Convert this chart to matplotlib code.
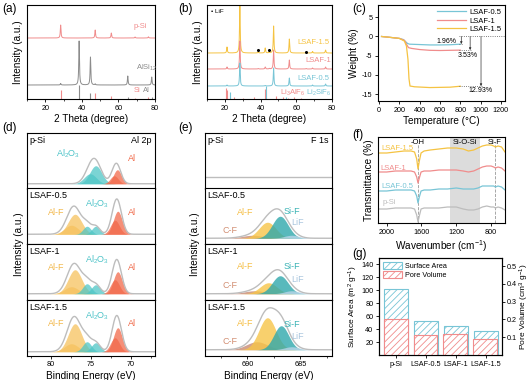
import numpy as np
import matplotlib
matplotlib.use('Agg')
import matplotlib.pyplot as plt
from matplotlib.patches import Patch
from matplotlib.ticker import MultipleLocator

plt.rcParams['font.family'] = ['Liberation Sans', 'DejaVu Sans']
plt.rcParams['axes.linewidth'] = 0.8
plt.rcParams['axes.unicode_minus'] = False
plt.rcParams['hatch.linewidth'] = 0.6
plt.rcParams['mathtext.default'] = 'regular'
plt.rcParams['xtick.major.width'] = 0.6
plt.rcParams['ytick.major.width'] = 0.6
plt.rcParams['xtick.major.size'] = 2.5
plt.rcParams['ytick.major.size'] = 2.5
plt.rcParams['xtick.minor.size'] = 1.5
plt.rcParams['xtick.minor.width'] = 0.5
plt.rcParams['xtick.major.pad'] = 1.5
plt.rcParams['ytick.major.pad'] = 1.5

C_RED = '#F08C8C'
C_GRAY = '#8C8C8C'
C_YEL = '#F5C342'
C_BLUE = '#78C5D6'
C_LGRAY = '#BDBDBD'

# ---------------- (a) XRD ----------------
a_psi_pos = [28.4, 47.3, 56.1, 69.1, 76.4]
a_psi_h = [13, 8, 5, 1, 1.2]
a_alsi_pos = [28.4, 38.5, 44.7, 47.3, 65.1, 78.2]
a_alsi_h = [1.5, 44, 28, 1, 9, 8]
a_ref_si_pos = [28.4, 47.3, 56.1, 69.1, 76.4]
a_ref_si_h = [9, 6, 3, 1, 2]
a_ref_al_pos = [38.5, 44.7, 65.1, 78.2]
a_ref_al_h = [14, 6, 2, 2]
a_base = {'p-Si': 61, 'AlSi12': 14}

# ---------------- (b) XRD ----------------
b_pos = [21.2, 28.4, 38.7, 42.6, 44.9, 47.3, 56.1, 65.5, 69.1, 76.4]
b_h15 = [6, 50, 1, 5, 1, 27, 14, 0.8, 1.5, 3]
b_h1 = [2, 28, 0.5, 2, 0.5, 19, 9, 0.5, 1, 2]
b_h05 = [1, 23, 0, 0.5, 0, 18, 8, 0, 1, 2]
b_base = [46, 30, 13]
b_ref_laf_pos = [20.9, 21.4, 25.0, 30.3, 36.5, 42.2, 48.5, 52.8, 55.2, 58.7, 62.5]
b_ref_laf_h = [11, 9, 2, 1.5, 2, 10, 3, 2, 1.5, 2, 1]
b_ref_lsf_pos = [22.6, 42.9, 54.2]
b_ref_lsf_h = [7, 13, 2]
b_lif_pos = [38.5, 44.8, 65.5]
b_lif_y = [49, 49, 47]

# ---------------- (c) TGA ----------------
c_T05 = [25, 100, 200, 240, 260, 280, 300, 400, 500, 600, 700, 800]
c_w05 = [0, -0.2, -0.5, -0.8, -1.3, -1.8, -2.0, -2.1, -2.2, -2.2, -2.15, -2.0]
c_T1 = [25, 100, 200, 250, 270, 290, 320, 400, 500, 600, 700, 800]
c_w1 = [0, -0.2, -0.5, -1.0, -2.0, -2.9, -3.1, -3.4, -3.6, -3.65, -3.6, -3.55]
c_T15 = [25, 100, 200, 250, 270, 285, 295, 305, 350, 500, 700, 800]
c_w15 = [0, -0.2, -0.5, -1.2, -2.5, -6.0, -11.0, -12.9, -13.1, -13.3, -13.2, -12.95]
c_loss = [1.96, 3.53, 12.93]
c_arrow_T = [810, 897, 1004]

# ---------------- (d) XPS Al 2p ----------------
d_names = ['p-Si', 'LSAF-0.5', 'LSAF-1', 'LSAF-1.5']
d_base = [5, 10, 6, 4]
# (component, center, height, sigma)
d_comps = [
    [('Al2O3', 75.1, 10, 0.75), ('Al2O3', 74.4, 18, 0.75), ('Al', 72.1, 8, 0.5), ('Al', 71.7, 14, 0.5)],
    [('AlF', 77.0, 20, 0.85), ('AlF', 77.45, 9, 0.85), ('Al2O3', 75.5, 8, 0.5), ('Al2O3', 74.4, 8, 0.5),
     ('Al', 72.0, 14, 0.55), ('Al', 71.65, 23, 0.55)],
    [('AlF', 77.0, 24, 0.85), ('AlF', 77.45, 7, 0.85), ('Al2O3', 75.5, 10, 0.55), ('Al2O3', 74.4, 9, 0.55),
     ('Al', 72.0, 14, 0.55), ('Al', 71.65, 22, 0.55)],
    [('AlF', 77.0, 28, 0.85), ('AlF', 77.45, 8, 0.85), ('Al2O3', 75.5, 10, 0.55), ('Al2O3', 74.4, 9, 0.55),
     ('Al', 72.0, 14, 0.55), ('Al', 71.65, 24, 0.55)],
]
d_colors = {'AlF': '#F6C25E', 'Al2O3': '#4FC6C6', 'Al': '#F26A4B'}
d_text_colors = {'AlF': '#F2B84B', 'Al2O3': '#4DC3C8', 'Al': '#F06A4A'}
d_text = {'AlF': 'Al-F', 'Al2O3': 'Al$_2$O$_3$', 'Al': 'Al'}
d_labels = [
    [('Al2O3', 77.9, 35), ('Al', 69.9, 30)],
    [('AlF', 79.3, 32), ('Al2O3', 74.3, 40), ('Al', 69.9, 32)],
    [('AlF', 79.3, 32), ('Al2O3', 74.3, 40), ('Al', 69.9, 32)],
    [('AlF', 79.3, 32), ('Al2O3', 74.3, 40), ('Al', 69.9, 32)],
]

# ---------------- (e) XPS F 1s ----------------
e_names = ['p-Si', 'LSAF-0.5', 'LSAF-1', 'LSAF-1.5']
e_base = [12, 6, 6, 6]
e_comps = [
    [],
    [('CF', 689.5, 3, 1.0), ('AlF', 688.1, 16, 0.8), ('SiF', 686.9, 22, 0.75), ('LiF', 685.8, 3, 0.7)],
    [('CF', 689.3, 3, 1.0), ('AlF', 688.0, 11, 0.8), ('SiF', 686.9, 18, 0.75), ('LiF', 685.8, 3, 0.7)],
    [('CF', 689.1, 8, 1.0), ('AlF', 688.1, 32, 0.8), ('SiF', 686.8, 24, 0.7), ('LiF', 685.8, 3, 0.7)],
]
e_colors = {'CF': '#C98B74', 'AlF': '#F7C548', 'SiF': '#2FA8AC', 'LiF': '#B9D5E8'}
e_text_colors = {'CF': '#D28F73', 'AlF': '#F5BE45', 'SiF': '#3AB3B5', 'LiF': '#A9C6DE'}
e_text = {'CF': 'C-F', 'AlF': 'Al-F', 'SiF': 'Si-F', 'LiF': 'LiF'}
e_labels = [
    [],
    [('AlF', 690.2, 32), ('SiF', 685.75, 33), ('CF', 691.6, 14), ('LiF', 685.3, 22)],
    [('AlF', 690.2, 33), ('SiF', 685.75, 33), ('CF', 691.6, 14), ('LiF', 685.3, 20)],
    [('AlF', 690.2, 32), ('SiF', 685.75, 31), ('CF', 691.6, 14), ('LiF', 685.3, 19)],
]

# ---------------- (f) FTIR ----------------
f_wn = [2100, 2000, 1900, 1800, 1720, 1680, 1655, 1640, 1625, 1605, 1570, 1500, 1400, 1300,
        1200, 1120, 1060, 1000, 950, 900, 850, 800, 770, 750, 720, 680, 640]
f_lsaf15 = [70, 70, 71, 72, 72, 71, 64, 54, 62, 70, 72, 73, 74, 75, 75, 74, 72, 73, 75, 77, 78, 78, 77, 76, 77, 76, 71]
f_lsaf1 = [51, 51, 52, 52, 52, 51, 46, 40, 45, 51, 52, 52, 53, 53, 53, 52, 51, 52, 54, 56, 57, 57, 56, 55, 56, 55, 52]
f_lsaf05 = [32, 32, 33, 33, 33, 32, 27, 20, 26, 32, 33, 33, 34, 34, 35, 34, 34, 34, 35, 37, 37, 37, 37, 36, 37, 36, 33]
f_psi = [14, 14, 15, 15, 15, 14, 8, 1, 7, 14, 15, 15, 15, 16, 16, 14, 13, 13, 14, 16, 17, 16, 16, 15, 16, 15, 13]
f_oh = 1640
f_sif = 760
f_band = (1270, 930)

# ---------------- (g) BET ----------------
g_cats = ['p-Si', 'LSAF-0.5', 'LSAF-1', 'LSAF-1.5']
g_area = [102, 52, 45, 37]
g_pore = [0.203, 0.112, 0.117, 0.09]

W, H = 532, 380
fig = plt.figure(figsize=(W / 100, H / 100), dpi=100)


def add_ax(l, t, r, b):
    return fig.add_axes([l / W, 1 - b / H, (r - l) / W, (b - t) / H])


def lor(x, c, h, w=0.22):
    return h / (1 + ((x - c) / w) ** 2)


def gau(x, c, h, s):
    return h * np.exp(-(x - c) ** 2 / (2 * s ** 2))


LW = 0.7
TFS = 5.2   # tick font size
LFS = 7.2   # axis label font size
PFS = 8.5   # panel label font size

# ---- (a)
ax = add_ax(27, 5, 155, 99)
x = np.linspace(10, 80, 4000)
y = a_base['p-Si'] + sum(lor(x, c, h) for c, h in zip(a_psi_pos, a_psi_h))
ax.plot(x, y, color=C_RED, lw=LW)
y = a_base['AlSi12'] + sum(lor(x, c, h) for c, h in zip(a_alsi_pos, a_alsi_h))
ax.plot(x, y, color=C_GRAY, lw=LW)
ax.vlines(a_ref_si_pos, 0, a_ref_si_h, color=C_RED, lw=0.8)
ax.vlines(a_ref_al_pos, 0, a_ref_al_h, color=C_GRAY, lw=0.8)
ax.set_xlim(10, 80)
ax.set_ylim(0, 94)
ax.set_yticks([])
ax.set_xticks([20, 40, 60, 80])
ax.xaxis.set_minor_locator(MultipleLocator(10))
ax.tick_params(labelsize=TFS)
ax.set_xlabel('2 Theta (degree)', fontsize=LFS, labelpad=2)
ax.set_ylabel('Intensity (a.u.)', fontsize=LFS, labelpad=3)
ax.text(72, 73, 'p-Si', color=C_RED, fontsize=5.5, ha='center', va='center')
ax.text(75.5, 31, 'AlSi$_{12}$', color=C_GRAY, fontsize=5.5, ha='center', va='center')
ax.text(70, 8, 'Si', color=C_RED, fontsize=5.5, ha='center', va='center')
ax.text(75.5, 8, 'Al', color=C_GRAY, fontsize=5.5, ha='center', va='center')

# ---- (b)
ax = add_ax(207, 5, 332, 99)
for base, hs, col in zip(b_base, [b_h15, b_h1, b_h05], [C_YEL, C_RED, C_BLUE]):
    y = base + sum(lor(x, c, h) for c, h in zip(b_pos, hs))
    ax.plot(x, y, color=col, lw=LW)
ax.vlines(b_ref_laf_pos, 0, b_ref_laf_h, color=C_RED, lw=0.8)
ax.vlines(b_ref_lsf_pos, 0, b_ref_lsf_h, color=C_BLUE, lw=0.8)
ax.plot(b_lif_pos, b_lif_y, 'o', color='k', ms=1.2)
ax.set_xlim(10, 80)
ax.set_ylim(0, 94)
ax.set_yticks([])
ax.set_xticks([20, 40, 60, 80])
ax.xaxis.set_minor_locator(MultipleLocator(10))
ax.tick_params(labelsize=TFS)
ax.set_xlabel('2 Theta (degree)', fontsize=LFS, labelpad=2)
ax.set_ylabel('Intensity (a.u.)', fontsize=LFS, labelpad=3)
ax.text(0.03, 0.93, '\u2022 LiF', transform=ax.transAxes, fontsize=4.5, va='center')
ax.text(69.5, 56, 'LSAF-1.5', color=C_YEL, fontsize=5.5, ha='center', va='center')
ax.text(72.5, 38, 'LSAF-1', color=C_RED, fontsize=5.5, ha='center', va='center')
ax.text(69.5, 20, 'LSAF-0.5', color=C_BLUE, fontsize=5.5, ha='center', va='center')
ax.text(58.0, 6, 'Li$_3$AlF$_6$', color=C_RED, fontsize=5.5, ha='center', va='center')
ax.text(72.5, 6, 'Li$_2$SiF$_6$', color=C_BLUE, fontsize=5.5, ha='center', va='center')

# ---- (c)
ax = add_ax(378, 5, 505, 101)
ax.plot(c_T05, c_w05, color=C_BLUE, lw=0.9, label='LSAF-0.5')
ax.plot(c_T1, c_w1, color=C_RED, lw=0.9, label='LSAF-1')
ax.plot(c_T15, c_w15, color=C_YEL, lw=0.9, label='LSAF-1.5')
ax.set_xlim(-10, 1240)
ax.set_ylim(-16.8, 8.2)
ax.set_xticks([0, 200, 400, 600, 800, 1000, 1200])
ax.set_yticks([5, 0, -5, -10, -15])
ax.tick_params(labelsize=TFS)
ax.set_xlabel('Temperature (\u00b0C)', fontsize=LFS, labelpad=2)
ax.set_ylabel('Weight (%)', fontsize=LFS, labelpad=2)
ax.hlines(0, 790, 1235, color='#555555', lw=0.6, ls=':')
for L, Tx in zip(c_loss, c_arrow_T):
    ax.hlines(-L, 790, Tx + 15, color='#555555', lw=0.6, ls=':')
    ax.annotate('', xy=(Tx, -L), xytext=(Tx, 0),
                arrowprops=dict(arrowstyle='-|>', lw=0.5, color='#333333', mutation_scale=3,
                                shrinkA=0, shrinkB=0))
ax.text(665, -1.4, '1.96%', fontsize=5, ha='center', va='center')
ax.text(870, -4.9, '3.53%', fontsize=5, ha='center', va='center')
ax.text(1000, -14.0, '12.93%', fontsize=5, ha='center', va='center')
ax.legend(loc='upper right', frameon=False, fontsize=5.5, handlelength=3.8,
          borderaxespad=0.1, labelspacing=0.15, handletextpad=0.4)

# ---- (d)
tops = [133, 188.5, 244, 300]
hgt = 55.75
xd = np.linspace(83, 67, 800)
for i in range(4):
    ax = add_ax(27, tops[i], 155, tops[i] + hgt)
    base = d_base[i]
    total = np.zeros_like(xd)
    for name, c, h, s in d_comps[i]:
        g = gau(xd, c, h, s)
        total += g
        ax.fill_between(xd, base, base + g, color=d_colors[name], alpha=0.75, lw=0)
    ax.plot(xd, base + total, color=C_LGRAY, lw=1.0)
    for name, ex, ey in d_labels[i]:
        ax.text(ex, ey, d_text[name], color=d_text_colors[name], fontsize=6.5, ha='center', va='center')
    ax.text(0.02, 0.95, d_names[i], transform=ax.transAxes, fontsize=6.5, va='top', ha='left')
    if i == 0:
        ax.text(0.97, 0.95, 'Al 2p', transform=ax.transAxes, fontsize=6.5, va='top', ha='right')
    ax.set_xlim(83, 67)
    ax.set_ylim(0, hgt)
    ax.set_yticks([])
    if i < 3:
        ax.set_xticks([])
    else:
        ax.set_xticks([80, 75, 70])
        ax.xaxis.set_minor_locator(MultipleLocator(2.5))
        ax.tick_params(labelsize=TFS)
        ax.set_xlabel('Binding Energy (eV)', fontsize=LFS, labelpad=2)
fig.text(19 / W, 1 - 244.5 / H, 'Intensity (a.u.)', rotation=90, fontsize=LFS, ha='center', va='center')

# ---- (e)
xe = np.linspace(694, 682, 800)
for i in range(4):
    ax = add_ax(205, tops[i], 332, tops[i] + hgt)
    base = e_base[i]
    total = np.zeros_like(xe)
    for name, c, h, s in e_comps[i]:
        g = gau(xe, c, h, s)
        total += g
        ax.fill_between(xe, base, base + g, color=e_colors[name], alpha=0.8, lw=0)
    ax.plot(xe, base + total, color=C_LGRAY, lw=1.0)
    for name, ex, ey in e_labels[i]:
        ax.text(ex, ey, e_text[name], color=e_text_colors[name], fontsize=6.5, ha='center', va='center')
    ax.text(0.02, 0.95, e_names[i], transform=ax.transAxes, fontsize=6.5, va='top', ha='left')
    if i == 0:
        ax.text(0.97, 0.95, 'F 1s', transform=ax.transAxes, fontsize=6.5, va='top', ha='right')
    ax.set_xlim(694, 682)
    ax.set_ylim(0, hgt)
    ax.set_yticks([])
    if i < 3:
        ax.set_xticks([])
    else:
        ax.set_xticks([690, 685])
        ax.xaxis.set_minor_locator(MultipleLocator(2.5))
        ax.tick_params(labelsize=TFS)
        ax.set_xlabel('Binding Energy (eV)', fontsize=LFS, labelpad=2)
fig.text(195 / W, 1 - 244.5 / H, 'Intensity (a.u.)', rotation=90, fontsize=LFS, ha='center', va='center')

# ---- (f)
ax = add_ax(378, 137, 505, 223)
ax.axvspan(f_band[0], f_band[1], color='#DCDCDC', lw=0)
ax.vlines([f_oh, f_sif], 0, 80, color='#999999', lw=0.6, ls='--')
ax.plot(f_wn, f_lsaf15, color=C_YEL, lw=0.9)
ax.plot(f_wn, f_lsaf1, color=C_RED, lw=0.9)
ax.plot(f_wn, f_lsaf05, color=C_BLUE, lw=0.9)
ax.plot(f_wn, f_psi, color=C_LGRAY, lw=0.9)
ax.set_xlim(2100, 640)
ax.set_ylim(0, 86)
ax.set_yticks([])
ax.set_xticks([2000, 1600, 1200, 800])
ax.tick_params(labelsize=TFS)
ax.set_xlabel('Wavenumber (cm$^{-1}$)', fontsize=LFS, labelpad=2)
ax.set_ylabel('Transmittance (%)', fontsize=LFS, labelpad=3)
ax.text(1882, 75, 'LSAF-1.5', color=C_YEL, fontsize=5.5, ha='center', va='center')
ax.text(1922, 55, 'LSAF-1', color=C_RED, fontsize=5.5, ha='center', va='center')
ax.text(1882, 37, 'LSAF-0.5', color=C_BLUE, fontsize=5.5, ha='center', va='center')
ax.text(1975, 21, 'p-Si', color=C_LGRAY, fontsize=5.5, ha='center', va='center')
ax.text(f_oh, 80, '-OH', fontsize=5.5, ha='center', va='center')
ax.text(1100, 80, 'Si-O-Si', fontsize=5.5, ha='center', va='center')
ax.text(f_sif, 80, 'Si-F', fontsize=5.5, ha='center', va='center')

# ---- (g)
GLFS = 6.0
ax = add_ax(379, 258, 502, 355)
xg = np.arange(len(g_cats))
ax.bar(xg, g_area, width=0.8, facecolor='white', edgecolor=C_BLUE, hatch='/////', lw=0.8)
ax.set_ylim(0, 150)
ax.set_xlim(-0.55, 3.55)
ax.set_yticks([20, 40, 60, 80, 100, 120, 140])
ax.set_xticks(xg)
ax.set_xticklabels(g_cats)
ax.tick_params(labelsize=TFS)
ax.set_ylabel('Surface Area (m$^2$ g$^{-1}$)', fontsize=GLFS, labelpad=1)
ax2 = ax.twinx()
ax2.bar(xg, g_pore, width=0.8, facecolor='white', edgecolor=C_RED, hatch='/////', lw=0.8)
ax2.set_ylim(0, 0.545)
ax2.set_yticks([0.1, 0.2, 0.3, 0.4, 0.5])
ax2.tick_params(labelsize=TFS, pad=1)
ax2.set_ylabel('Pore Volume (cm$^3$ g$^{-1}$)', fontsize=GLFS, labelpad=0.5)
handles = [Patch(facecolor='white', edgecolor=C_BLUE, hatch='/////', lw=0.8, label='Surface Area'),
           Patch(facecolor='white', edgecolor=C_RED, hatch='/////', lw=0.8, label='Pore Volume')]
ax2.legend(handles=handles, loc='upper left', frameon=False, fontsize=5.2,
           handlelength=2.6, handleheight=1.0, borderaxespad=0.2, labelspacing=0.15, handletextpad=0.4)

# panel labels
for lab, px, py in [('(a)', 2, 9), ('(b)', 178, 9), ('(c)', 352, 9), ('(d)', 2, 128),
                    ('(e)', 178, 128), ('(f)', 352, 135), ('(g)', 352, 254)]:
    fig.text(px / W, 1 - py / H, lab, fontsize=PFS, ha='left', va='center')

fig.savefig('out.png', dpi=100)
